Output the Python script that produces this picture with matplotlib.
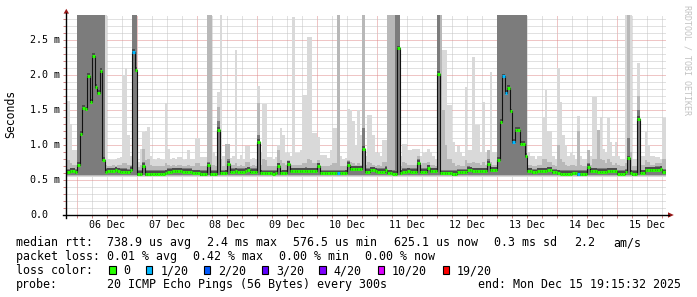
import numpy as np
import matplotlib.pyplot as plt
from matplotlib.patches import Polygon, Rectangle
from matplotlib.lines import Line2D

# hourly bins, hour 0 = 06 Dec 00:00, first bin = 05 Dec 19:00
first_hour = -5

# median rtt per hour (ms), one row per day
median_ms = (
    [0.61, 0.61, 0.63, 0.63, 0.61]
    + [0.72, 1.16, 1.53, 1.51, 1.99, 1.62, 2.27, 1.83, 1.74, 2.06, 0.79, 0.62,
       0.63, 0.63, 0.63, 0.64, 0.63, 0.62, 0.62, 0.62, 0.61, 0.65, 2.33, 2.07]
    + [0.585, 0.585, 0.70, 0.585, 0.585, 0.585, 0.59, 0.59, 0.59, 0.59, 0.59, 0.60,
       0.62, 0.62, 0.63, 0.63, 0.63, 0.63, 0.62, 0.62, 0.62, 0.62, 0.605, 0.605]
    + [0.605, 0.585, 0.585, 0.585, 0.71, 0.585, 0.585, 0.585, 1.22, 0.595, 0.595, 0.60,
       0.73, 0.62, 0.62, 0.625, 0.62, 0.62, 0.62, 0.63, 0.64, 0.62, 0.62, 0.62]
    + [1.05, 0.60, 0.595, 0.595, 0.595, 0.595, 0.59, 0.595, 0.70, 0.595, 0.60, 0.60,
       0.73, 0.63, 0.63, 0.63, 0.63, 0.63, 0.63, 0.635, 0.63, 0.63, 0.63, 0.63]
    + [0.70, 0.595, 0.595, 0.595, 0.595, 0.595, 0.595, 0.595, 0.595, 0.595, 0.595, 0.60,
       0.72, 0.655, 0.655, 0.655, 0.655, 0.655, 0.95, 0.62, 0.62, 0.64, 0.64, 0.63]
    + [0.62, 0.62, 0.62, 0.65, 0.605, 0.605, 0.59, 0.59, 2.38, 0.60, 0.62, 0.62,
       0.625, 0.62, 0.62, 0.62, 0.75, 0.62, 0.62, 0.62, 0.67, 0.63, 0.63, 0.63]
    + [2.02, 0.595, 0.595, 0.595, 0.595, 0.595, 0.585, 0.585, 0.61, 0.61, 0.61, 0.61,
       0.65, 0.64, 0.63, 0.63, 0.63, 0.63, 0.63, 0.63, 0.73, 0.64, 0.64, 0.64]
    + [0.79, 1.33, 1.98, 1.75, 1.82, 1.48, 1.04, 1.22, 1.22, 1.02, 1.02, 0.84,
       0.63, 0.63, 0.61, 0.61, 0.63, 0.63, 0.63, 0.63, 0.64, 0.64, 0.61, 0.61]
    + [0.60, 0.59, 0.59, 0.59, 0.59, 0.59, 0.595, 0.595, 0.585, 0.585, 0.585, 0.585,
       0.69, 0.63, 0.63, 0.625, 0.62, 0.62, 0.62, 0.62, 0.63, 0.63, 0.63, 0.63]
    + [0.59, 0.59, 0.59, 0.61, 0.81, 0.60, 0.585, 0.585, 1.37, 0.605, 0.605, 0.64,
       0.64, 0.64, 0.64, 0.65, 0.65, 0.66, 0.61, 0.61]
)

# hours with packet loss (pings lost out of 20)
loss_hours = [22, 104, 170, 171, 174, 200]
loss_counts = [1, 1, 1, 1, 1, 1]

# upper edge of the outer (light) smoke per hour (ms)
smoke_top = (
    [1.45, 1.63, 1.30, 0.93, 0.93]
    + [2.9, 2.9, 2.9, 2.9, 2.9, 2.9, 2.9, 2.9, 2.9, 2.9, 2.9, 2.9,
       0.80, 0.79, 0.79, 0.80, 0.81, 0.83, 2.00, 2.10, 1.14, 0.85, 2.9, 2.9]
    + [0.76, 0.95, 1.19, 1.20, 1.26, 0.85, 0.80, 0.78, 0.82, 0.80, 0.78, 1.60,
       0.95, 0.80, 0.82, 0.80, 0.83, 0.83, 0.78, 0.80, 0.93, 0.80, 0.80, 1.10]
    + [1.10, 0.83, 0.83, 0.83, 2.9, 2.9, 0.90, 0.85, 1.76, 2.9, 0.85, 1.02,
       1.02, 0.82, 0.85, 2.36, 0.80, 0.86, 0.80, 0.98, 0.98, 0.80, 0.82, 0.80]
    + [1.84, 0.90, 1.58, 1.58, 0.83, 0.83, 0.80, 0.83, 1.00, 1.24, 1.15, 0.88,
       0.88, 0.85, 2.83, 0.88, 0.88, 0.93, 1.71, 1.71, 2.55, 2.55, 1.17, 1.17]
    + [1.12, 0.86, 0.86, 0.86, 0.82, 0.93, 1.24, 1.24, 2.9, 0.85, 0.80, 0.82,
       1.52, 1.50, 1.35, 1.00, 1.50, 1.14, 2.9, 0.85, 1.43, 1.43, 1.14, 0.90]
    + [0.88, 0.85, 1.07, 1.07, 2.9, 2.9, 2.9, 2.9, 2.9, 0.85, 1.02, 1.02,
       0.93, 0.93, 0.95, 0.95, 0.95, 0.85, 0.88, 0.90, 0.95, 0.90, 0.85, 0.80]
    + [2.9, 0.90, 2.36, 2.36, 1.57, 1.57, 1.05, 0.90, 0.98, 0.90, 0.85, 1.83,
       0.93, 0.93, 2.26, 1.29, 1.29, 0.90, 1.62, 0.90, 0.93, 2.05, 0.90, 0.90]
    + [2.9, 2.9, 2.9, 2.9, 2.9, 2.9, 2.9, 2.9, 2.9, 2.9, 2.9, 2.9,
       0.90, 0.85, 0.85, 0.80, 0.85, 0.85, 1.40, 1.79, 1.20, 1.20, 0.85, 0.80]
    + [2.10, 1.62, 1.14, 1.00, 0.85, 0.88, 0.86, 0.80, 1.41, 0.85, 0.80, 0.80,
       0.93, 0.85, 1.69, 1.69, 1.21, 1.40, 0.95, 0.90, 1.38, 1.05, 0.85, 1.05]
    + [0.85, 0.80, 0.80, 2.9, 2.9, 2.9, 0.80, 0.80, 2.17, 0.85, 0.85, 1.19,
       1.00, 0.85, 0.85, 0.83, 0.83, 0.80, 1.38, 1.38]
)

# upper edge of the middle smoke per hour (ms)
smoke_mid = (
    [0.72, 0.78, 0.75, 0.72, 0.72]
    + [2.9, 2.9, 2.9, 2.9, 2.9, 2.9, 2.9, 2.9, 2.9, 2.9, 2.9, 0.72,
       0.70, 0.70, 0.71, 0.70, 0.72, 0.71, 0.74, 0.74, 0.72, 0.72, 2.9, 2.9]
    + [0.68, 0.72, 0.95, 0.78, 0.80, 0.72, 0.70, 0.70, 0.70, 0.70, 0.70, 0.74,
       0.72, 0.70, 0.72, 0.70, 0.72, 0.72, 0.70, 0.70, 0.72, 0.70, 0.70, 0.74]
    + [0.74, 0.70, 0.70, 0.70, 2.9, 2.9, 0.72, 0.70, 1.55, 0.80, 0.70, 1.02,
       1.02, 0.72, 0.72, 0.74, 0.70, 0.72, 0.70, 0.76, 0.76, 0.70, 0.72, 0.70]
    + [1.60, 0.72, 0.80, 0.78, 0.70, 0.70, 0.70, 0.70, 0.93, 0.78, 0.74, 0.72,
       0.78, 0.72, 0.72, 0.72, 0.72, 0.72, 0.74, 0.74, 0.80, 0.78, 0.74, 0.74]
    + [0.78, 0.70, 0.70, 0.70, 0.70, 0.72, 0.74, 0.74, 2.9, 0.70, 0.70, 0.70,
       0.79, 0.76, 0.74, 0.72, 0.74, 0.72, 2.9, 0.72, 0.76, 0.75, 0.72, 0.70]
    + [0.72, 0.70, 0.76, 0.76, 2.9, 2.9, 2.9, 2.9, 2.9, 0.70, 0.76, 0.74,
       0.72, 0.72, 0.72, 0.72, 0.85, 0.72, 0.74, 0.74, 0.76, 0.72, 0.72, 0.70]
    + [2.9, 2.9, 1.50, 1.00, 0.80, 0.80, 0.74, 0.70, 0.72, 0.70, 0.70, 0.78,
       0.74, 0.74, 0.76, 0.74, 0.74, 0.72, 0.76, 0.72, 0.93, 0.76, 0.72, 0.72]
    + [2.9, 2.9, 2.9, 2.9, 2.9, 2.9, 2.9, 2.9, 2.9, 2.9, 2.9, 2.9,
       0.72, 0.72, 0.70, 0.70, 0.72, 0.72, 0.80, 0.80, 0.76, 0.76, 0.72, 0.70]
    + [1.00, 0.80, 0.76, 0.72, 0.70, 0.72, 0.72, 0.70, 1.20, 0.72, 0.70, 0.70,
       0.93, 0.72, 0.80, 0.80, 1.21, 0.80, 0.78, 0.74, 0.80, 0.76, 0.72, 0.74]
    + [0.72, 0.70, 0.70, 0.75, 2.9, 0.90, 0.70, 0.70, 1.70, 0.72, 0.72, 0.78,
       0.76, 0.72, 0.72, 0.74, 0.74, 0.74, 0.80, 0.80]
)

# upper edge of the dark inner smoke per hour (ms)
smoke_dark = (
    [0.66, 0.66, 0.66, 0.66, 0.66]
    + [2.9, 2.9, 2.9, 2.9, 2.9, 2.9, 2.9, 2.9, 2.9, 2.9, 2.9, 0.66,
       0.66, 0.66, 0.66, 0.66, 0.66, 0.66, 0.66, 0.66, 0.66, 0.66, 2.9, 2.9]
    + [0.64, 0.64, 0.76, 0.64, 0.64, 0.64, 0.64, 0.64, 0.64, 0.64, 0.64, 0.65,
       0.66, 0.66, 0.67, 0.67, 0.67, 0.67, 0.66, 0.66, 0.66, 0.66, 0.65, 0.65]
    + [0.65, 0.64, 0.64, 0.64, 0.76, 0.64, 0.64, 0.64, 1.35, 0.65, 0.65, 0.65,
       0.80, 0.66, 0.66, 0.67, 0.66, 0.66, 0.66, 0.67, 0.68, 0.66, 0.66, 0.66]
    + [1.15, 0.65, 0.65, 0.65, 0.65, 0.65, 0.64, 0.65, 0.74, 0.65, 0.65, 0.65,
       0.76, 0.67, 0.67, 0.67, 0.67, 0.67, 0.67, 0.68, 0.67, 0.67, 0.67, 0.67]
    + [0.74, 0.65, 0.65, 0.65, 0.65, 0.65, 0.65, 0.65, 0.65, 0.65, 0.65, 0.65,
       0.76, 0.70, 0.70, 0.70, 0.70, 0.70, 1.25, 0.66, 0.66, 0.68, 0.68, 0.67]
    + [0.66, 0.66, 0.66, 0.69, 0.65, 0.65, 0.64, 2.9, 2.9, 0.65, 0.66, 0.66,
       0.67, 0.66, 0.66, 0.66, 0.80, 0.66, 0.66, 0.66, 0.71, 0.67, 0.67, 0.67]
    + [2.9, 0.65, 0.65, 0.65, 0.65, 0.65, 0.64, 0.64, 0.65, 0.65, 0.65, 0.65,
       0.69, 0.68, 0.67, 0.67, 0.67, 0.67, 0.67, 0.67, 0.80, 0.68, 0.68, 0.68]
    + [2.9, 2.9, 2.9, 2.9, 2.9, 2.9, 2.9, 2.9, 2.9, 2.9, 2.9, 2.9,
       0.67, 0.67, 0.65, 0.65, 0.67, 0.67, 0.67, 0.67, 0.68, 0.68, 0.65, 0.65]
    + [0.65, 0.64, 0.64, 0.64, 0.64, 0.64, 0.65, 0.65, 0.64, 0.64, 0.64, 0.64,
       0.75, 0.67, 0.67, 0.67, 0.66, 0.66, 0.66, 0.66, 0.67, 0.67, 0.67, 0.67]
    + [0.64, 0.64, 0.64, 0.65, 1.10, 0.65, 0.64, 0.64, 1.50, 0.65, 0.65, 0.68,
       0.68, 0.68, 0.68, 0.69, 0.69, 0.70, 0.65, 0.65]
)

day_labels = ['06 Dec', '07 Dec', '08 Dec', '09 Dec', '10 Dec',
              '11 Dec', '12 Dec', '13 Dec', '14 Dec', '15 Dec']
y_ticks = [0.0, 0.5, 1.0, 1.5, 2.0, 2.5]
y_tick_labels = ['0.0', '0.5 m', '1.0 m', '1.5 m', '2.0 m', '2.5 m']

loss_names = ['0', '1/20', '2/20', '3/20', '4/20', '10/20', '19/20']
loss_colors = ['#26ff00', '#00b8ff', '#0059ff', '#5e00ff', '#7e00ff', '#dd00ff', '#ff0000']

# ---------------------------------------------------------------
W, H = 697, 297
MONO = 'DejaVu Sans Mono'
fig = plt.figure(figsize=(W / 100, H / 100), dpi=100)
fig.patch.set_facecolor('white')


def fx(px):
    return px / W


def fy(py):
    return 1 - py / H


x0_px, x1_px, ytop_px, ybot_px = 65.6, 665.6, 15, 215
ax = fig.add_axes([fx(x0_px), fy(ybot_px), (x1_px - x0_px) / W, (ybot_px - ytop_px) / H])
ax.set_facecolor('white')

median = np.array(median_ms)
n = len(median)
hours = np.arange(n) + first_hour
edges = np.arange(n + 1) + first_hour
top = np.array(smoke_top)
mid = np.array(smoke_mid)
dark = np.maximum(np.array(smoke_dark), median + 0.045)

# smoke layers
ax.bar(hours, top - 0.545, bottom=0.545, width=1, align='edge', color='#d9d9d9', lw=0, zorder=2)
ax.bar(hours, mid - 0.56, bottom=0.56, width=1, align='edge', color='#b8b8b8', lw=0, zorder=3)
ax.bar(hours, dark - 0.575, bottom=0.575, width=1, align='edge', color='#7c7c7c', lw=0, zorder=4)
ax.bar(hours, 0.065, bottom=median - 0.025, width=1, align='edge', color='#4c4c4c', lw=0, zorder=5)

# median line coloured by loss
loss = np.zeros(n, dtype=int)
for h, c in zip(loss_hours, loss_counts):
    loss[h - first_hour] = c
seg_colors = [loss_colors[1] if l else loss_colors[0] for l in loss]
ax.stairs(median, edges, baseline=None, color='#111111', lw=0.8, zorder=6)
ax.hlines(median, edges[:-1], edges[1:], colors=seg_colors, lw=2.2, zorder=7)

ax.set_xlim(-4.75, 235.25)
ax.set_ylim(0, 200 / 70)

# grid
days = np.arange(0, 236, 24)
six = [h for h in range(-0, 236, 6) if h % 24]
ax.set_xticks(days)
ax.set_xticks(six, minor=True)
ax.set_yticks(np.arange(0, 2.86, 0.5))
ax.set_yticks([v / 10 for v in range(1, 29) if v % 5], minor=True)
ax.set_axisbelow(True)
ax.grid(which='minor', color='#c4c4c4', linestyle=(0, (1, 1)), lw=0.72)
ax.grid(which='major', color='#e08c8c', linestyle=(0, (1, 1)), lw=0.72)
ax.tick_params(which='both', labelbottom=False, labelleft=False, length=2,
               width=0.7, color='#d08080', direction='out')
for s in ax.spines.values():
    s.set_visible(False)

# axis lines and arrows
fig.add_artist(Line2D([fx(63), fx(669)], [fy(215), fy(215)], color='black', lw=1.0))
fig.add_artist(Line2D([fx(66.3), fx(66.3)], [fy(218), fy(13)], color='black', lw=1.0))
fig.add_artist(Polygon([(fx(668), fy(212.3)), (fx(673.8), fy(215)), (fx(668), fy(217.7))],
                       closed=True, color='#9a1818', lw=0))
fig.add_artist(Polygon([(fx(63.6), fy(13.6)), (fx(66.3), fy(8.8)), (fx(69.0), fy(13.6))],
                       closed=True, color='#9a1818', lw=0))

# tick labels
for v, lab in zip(y_ticks, y_tick_labels):
    fig.text(fx(30), fy(ybot_px - v * 70), lab, ha='left', va='center',
             family=MONO, size=7.2, color='black')
for k, lab in enumerate(day_labels):
    px = x0_px + (12 + 24 * k + 4.75) * 2.5
    fig.text(fx(px), fy(228.5), lab, ha='center', va='baseline',
             family=MONO, size=7.2, color='black')

fig.text(fx(10.5), fy(114), 'Seconds', rotation=90, ha='center', va='center',
         family=MONO, size=8.3, color='black')
fig.text(fx(686.5), fy(5), 'RRDTOOL / TOBI OETIKER', rotation=-90, ha='center', va='top',
         family=MONO, size=6, color='#c2c2c2')

# legend rows
rows = [
    (246, [(16, 'median rtt:'), (107.3, '738.9 us avg'), (207.3, '2.4 ms max'),
           (293.3, '576.5 us min'), (393.7, '625.1 us now'), (493.7, '0.3 ms sd'),
           (573.7, '2.2'), (613.7, 'am/s')]),
    (260, [(16, 'packet loss:'), (107.3, '0.01 % avg'), (193.3, '0.42 % max'),
           (279.3, '0.00 % min'), (365.3, '0.00 % now')]),
    (274, [(16, 'loss color:')]),
    (288, [(16, 'probe:'), (107.3, '20 ICMP Echo Pings (56 Bytes) every 300s')]),
]
for yb, items in rows:
    for px, s in items:
        fig.text(fx(px), fy(yb), s, ha='left', va='baseline', family=MONO, size=8.4)
fig.text(fx(680.5), fy(288), 'end: Mon Dec 15 19:15:32 2025', ha='right', va='baseline',
         family=MONO, size=8.4)

box_x = [109, 145.7, 203.7, 261.7, 319.3, 377.7, 442.7]
lab_x = [123.3, 161, 218.3, 276, 333.3, 392, 456.3]
for bx, lx, name, col in zip(box_x, lab_x, loss_names, loss_colors):
    fig.add_artist(Rectangle((fx(bx), fy(273.7)), 6.7 / W, 7.3 / H, facecolor=col,
                             edgecolor='black', lw=0.8))
    fig.text(fx(lx), fy(274), name, ha='left', va='baseline', family=MONO, size=8.4)

fig.savefig('out.png', dpi=100)
